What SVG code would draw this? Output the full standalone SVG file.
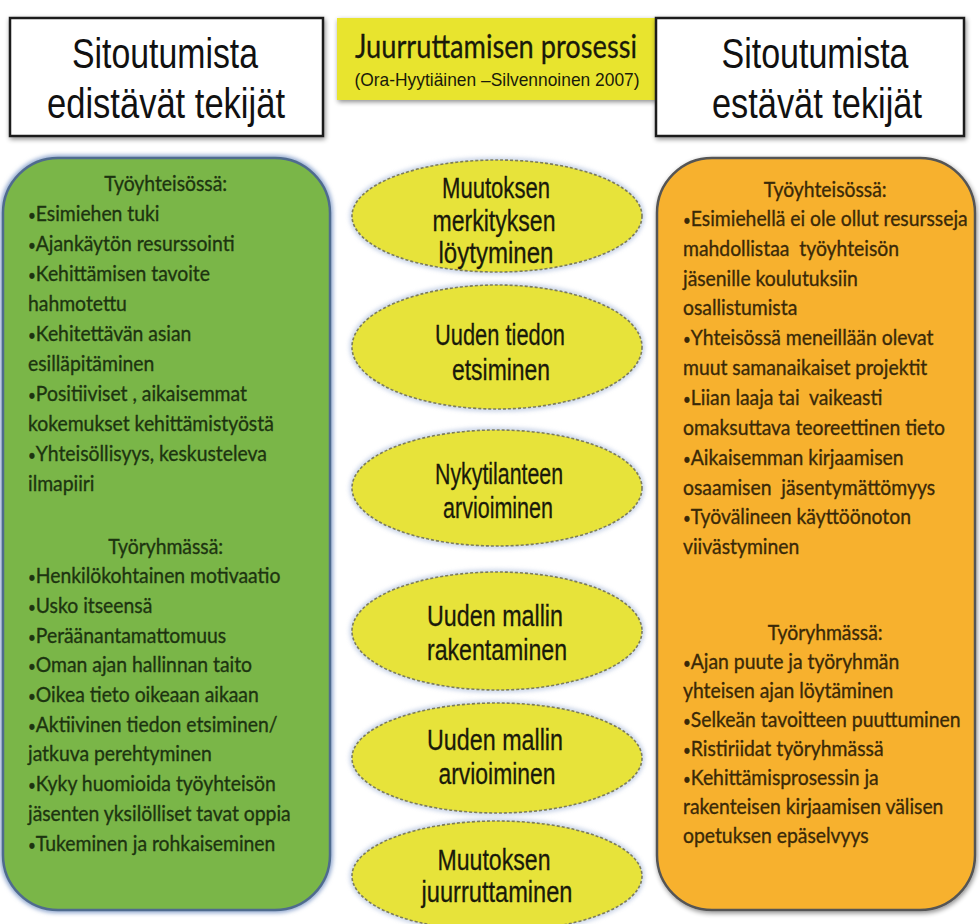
<svg xmlns="http://www.w3.org/2000/svg" width="980" height="924" viewBox="0 0 980 924">
<defs>
<filter id="sh" x="-10%" y="-10%" width="120%" height="120%">
<feGaussianBlur in="SourceAlpha" stdDeviation="2.5"/>
<feOffset dx="1" dy="2" result="b"/>
<feComponentTransfer><feFuncA type="linear" slope="0.45"/></feComponentTransfer>
<feMerge><feMergeNode/><feMergeNode in="SourceGraphic"/></feMerge>
</filter>
<filter id="glow" x="-10%" y="-10%" width="120%" height="120%">
<feGaussianBlur stdDeviation="2"/>
</filter>
</defs>
<style>
.hdr{fill:#fff;stroke:#1a1a1a;stroke-width:2.5}
.htxt{font-family:"Liberation Sans",Arial,sans-serif;font-size:42px;fill:#111;text-anchor:middle}
.ell{fill:#e7e33a;stroke:#7d7d5a;stroke-width:1.6;stroke-dasharray:3 2}
.ellg{fill:none;stroke:#9fb2d6;stroke-width:5;opacity:0.6}
.etxt{font-family:"Liberation Sans",Arial,sans-serif;font-size:30px;fill:#1a1a0a;stroke:#1a1a0a;stroke-width:0.3;text-anchor:middle}
.lt{font-family:Lato,"Open Sans",sans-serif;font-size:21.5px;fill:#1d3410;stroke:#1d3410;stroke-width:0.35;white-space:pre}
.rt{font-family:Lato,"Open Sans",sans-serif;font-size:21.5px;fill:#3a2908;stroke:#3a2908;stroke-width:0.35;white-space:pre}
.b{font-size:15px}
.c{text-anchor:middle}
</style>
<rect width="980" height="924" fill="#fff"/>

<g id="header-left">
<rect class="hdr" x="10" y="18" width="313" height="118" filter="url(#sh)"/>
<text class="htxt" x="165" y="68" textLength="186" lengthAdjust="spacingAndGlyphs">Sitoutumista</text>
<text class="htxt" x="166" y="118" textLength="238" lengthAdjust="spacingAndGlyphs">edistävät tekijät</text>
</g>

<g id="header-center">
<rect x="337" y="18" width="320" height="82" fill="#e8e42e" filter="url(#sh)"/>
<text x="496" y="58" font-family="Lato,'Open Sans',sans-serif" font-size="33" fill="#1a1a0a" stroke="#1a1a0a" stroke-width="0.3" text-anchor="middle" textLength="282" lengthAdjust="spacingAndGlyphs">Juurruttamisen prosessi</text>
<text x="497" y="86" font-family="'Liberation Sans',Arial,sans-serif" font-size="19" fill="#1a1a0a" text-anchor="middle" textLength="285" lengthAdjust="spacingAndGlyphs">(Ora-Hyytiäinen –Silvennoinen 2007)</text>
</g>

<g id="header-right">
<rect class="hdr" x="656" y="18" width="308" height="118" filter="url(#sh)"/>
<text class="htxt" x="815" y="68" textLength="187" lengthAdjust="spacingAndGlyphs">Sitoutumista</text>
<text class="htxt" x="817" y="118" textLength="210" lengthAdjust="spacingAndGlyphs">estävät tekijät</text>
</g>

<g id="box-left">
<rect x="3" y="158" width="327" height="752" rx="55" ry="55" fill="none" stroke="#8ea6cf" stroke-width="6" filter="url(#glow)"/>
<rect x="3" y="158" width="327" height="752" rx="55" ry="55" fill="#7ab648" stroke="#4f6b8e" stroke-width="2.5"/>
<g transform="translate(28 0) scale(0.9 1)">
<text class="lt c" x="153" y="191">Työyhteisössä:</text>
<text class="lt" x="0" y="221"><tspan class="b">•</tspan>Esimiehen tuki</text>
<text class="lt" x="0" y="251"><tspan class="b">•</tspan>Ajankäytön resurssointi</text>
<text class="lt" x="0" y="281"><tspan class="b">•</tspan>Kehittämisen tavoite</text>
<text class="lt" x="0" y="311">hahmotettu</text>
<text class="lt" x="0" y="341"><tspan class="b">•</tspan>Kehitettävän asian</text>
<text class="lt" x="0" y="371">esilläpitäminen</text>
<text class="lt" x="0" y="401"><tspan class="b">•</tspan>Positiiviset , aikaisemmat</text>
<text class="lt" x="0" y="431">kokemukset kehittämistyöstä</text>
<text class="lt" x="0" y="461"><tspan class="b">•</tspan>Yhteisöllisyys, keskusteleva</text>
<text class="lt" x="0" y="491">ilmapiiri</text>
<text class="lt c" x="153" y="554">Työryhmässä:</text>
<text class="lt" x="0" y="583"><tspan class="b">•</tspan>Henkilökohtainen motivaatio</text>
<text class="lt" x="0" y="613"><tspan class="b">•</tspan>Usko itseensä</text>
<text class="lt" x="0" y="643"><tspan class="b">•</tspan>Peräänantamattomuus</text>
<text class="lt" x="0" y="672"><tspan class="b">•</tspan>Oman ajan hallinnan taito</text>
<text class="lt" x="0" y="702"><tspan class="b">•</tspan>Oikea tieto oikeaan aikaan</text>
<text class="lt" x="0" y="732"><tspan class="b">•</tspan>Aktiivinen tiedon etsiminen/</text>
<text class="lt" x="0" y="761">jatkuva perehtyminen</text>
<text class="lt" x="0" y="791"><tspan class="b">•</tspan>Kyky huomioida työyhteisön</text>
<text class="lt" x="0" y="821">jäsenten yksilölliset tavat oppia</text>
<text class="lt" x="0" y="851"><tspan class="b">•</tspan>Tukeminen ja rohkaiseminen</text>
</g>
</g>

<g id="box-right">
<rect x="657" y="158" width="318" height="752" rx="55" ry="55" fill="#f7b12f" stroke="#555" stroke-width="2.5" filter="url(#sh)"/>
<g transform="translate(683 0) scale(0.9 1)">
<text class="rt c" x="158" y="197">Työyhteisössä:</text>
<text class="rt" x="0" y="226"><tspan class="b">•</tspan>Esimiehellä ei ole ollut resursseja</text>
<text class="rt" x="0" y="256">mahdollistaa  työyhteisön</text>
<text class="rt" x="0" y="286">jäsenille koulutuksiin</text>
<text class="rt" x="0" y="315">osallistumista</text>
<text class="rt" x="0" y="345"><tspan class="b">•</tspan>Yhteisössä meneillään olevat</text>
<text class="rt" x="0" y="375">muut samanaikaiset projektit</text>
<text class="rt" x="0" y="405"><tspan class="b">•</tspan>Liian laaja tai  vaikeasti</text>
<text class="rt" x="0" y="435">omaksuttava teoreettinen tieto</text>
<text class="rt" x="0" y="465"><tspan class="b">•</tspan>Aikaisemman kirjaamisen</text>
<text class="rt" x="0" y="495">osaamisen  jäsentymättömyys</text>
<text class="rt" x="0" y="524"><tspan class="b">•</tspan>Työvälineen käyttöönoton</text>
<text class="rt" x="0" y="554">viivästyminen</text>
<text class="rt c" x="158" y="640">Työryhmässä:</text>
<text class="rt" x="0" y="669"><tspan class="b">•</tspan>Ajan puute ja työryhmän</text>
<text class="rt" x="0" y="698">yhteisen ajan löytäminen</text>
<text class="rt" x="0" y="727"><tspan class="b">•</tspan>Selkeän tavoitteen puuttuminen</text>
<text class="rt" x="0" y="756"><tspan class="b">•</tspan>Ristiriidat työryhmässä</text>
<text class="rt" x="0" y="785"><tspan class="b">•</tspan>Kehittämisprosessin ja</text>
<text class="rt" x="0" y="814">rakenteisen kirjaamisen välisen</text>
<text class="rt" x="0" y="843">opetuksen epäselvyys</text>
</g>
</g>

<g id="step1">
<ellipse class="ellg" cx="497" cy="216" rx="145" ry="56" filter="url(#glow)"/>
<ellipse class="ell" cx="497" cy="216" rx="145" ry="56"/>
<text class="etxt" x="496" y="198" textLength="108" lengthAdjust="spacingAndGlyphs">Muutoksen</text>
<text class="etxt" x="494" y="231" textLength="123" lengthAdjust="spacingAndGlyphs">merkityksen</text>
<text class="etxt" x="496" y="263" textLength="115" lengthAdjust="spacingAndGlyphs">löytyminen</text>
</g>
<g id="step2">
<ellipse class="ellg" cx="497" cy="347" rx="145" ry="62" filter="url(#glow)"/>
<ellipse class="ell" cx="497" cy="347" rx="145" ry="62"/>
<text class="etxt" x="500" y="345" textLength="130" lengthAdjust="spacingAndGlyphs">Uuden tiedon</text>
<text class="etxt" x="501" y="380" textLength="98" lengthAdjust="spacingAndGlyphs">etsiminen</text>
</g>
<g id="step3">
<ellipse class="ellg" cx="497" cy="488" rx="145" ry="58" filter="url(#glow)"/>
<ellipse class="ell" cx="497" cy="488" rx="145" ry="58"/>
<text class="etxt" x="499" y="484" textLength="128" lengthAdjust="spacingAndGlyphs">Nykytilanteen</text>
<text class="etxt" x="498" y="518" textLength="110" lengthAdjust="spacingAndGlyphs">arvioiminen</text>
</g>
<g id="step4">
<ellipse class="ellg" cx="497" cy="631" rx="145" ry="59" filter="url(#glow)"/>
<ellipse class="ell" cx="497" cy="631" rx="145" ry="59"/>
<text class="etxt" x="495" y="626" textLength="136" lengthAdjust="spacingAndGlyphs">Uuden mallin</text>
<text class="etxt" x="497" y="660" textLength="140" lengthAdjust="spacingAndGlyphs">rakentaminen</text>
</g>
<g id="step5">
<ellipse class="ellg" cx="497" cy="758" rx="145" ry="55" filter="url(#glow)"/>
<ellipse class="ell" cx="497" cy="758" rx="145" ry="55"/>
<text class="etxt" x="495" y="750" textLength="136" lengthAdjust="spacingAndGlyphs">Uuden mallin</text>
<text class="etxt" x="497" y="784" textLength="117" lengthAdjust="spacingAndGlyphs">arvioiminen</text>
</g>
<g id="step6">
<ellipse class="ellg" cx="497" cy="876" rx="145" ry="55" filter="url(#glow)"/>
<ellipse class="ell" cx="497" cy="876" rx="145" ry="55"/>
<text class="etxt" x="494" y="870" textLength="113" lengthAdjust="spacingAndGlyphs">Muutoksen</text>
<text class="etxt" x="497" y="902" textLength="151" lengthAdjust="spacingAndGlyphs">juurruttaminen</text>
</g>

<g id="connectors"></g>
</svg>
